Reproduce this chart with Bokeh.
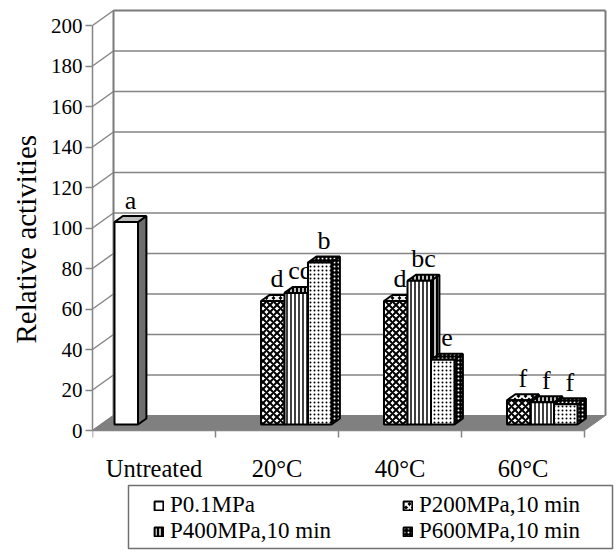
from bokeh.plotting import figure
from bokeh.models import FixedTicker, Legend, LegendItem, BoxAnnotation, Title
from bokeh.core.properties import value
from bokeh.embed import file_html
from bokeh.resources import INLINE

# ---------------- data ----------------
categories = ["Untreated", "20°C", "40°C", "60°C"]
series_names = ["P0.1MPa", "P200MPa,10 min", "P400MPa,10 min", "P600MPa,10 min"]
p01 = [100, None, None, None]
p200 = [None, 61, 61, 12]
p400 = [None, 65, 71, 11]
p600 = [None, 80, 32, 10]
sig_p01 = ["a", "", "", ""]
sig_p200 = ["", "d", "d", "f"]
sig_p400 = ["", "cd", "bc", "f"]
sig_p600 = ["", "b", "e", "f"]
y_ticks = [0, 20, 40, 60, 80, 100, 120, 140, 160, 180, 200]
y_title = "Relative activities"

series_values = [p01, p200, p400, p600]
series_sig = [sig_p01, sig_p200, sig_p400, sig_p600]

# ---------------- layout (pixels) ----------------
FIG_W, FIG_H = 614, 556
FRAME_LEFT = 92
ZERO_PX = 430          # canvas y of value 0
PX_X = 123.0           # pixels per category
PX_Y = 2.025           # pixels per value unit
N = len(categories)
X_END = (FIG_W - FRAME_LEFT) / PX_X
Y_END = ZERO_PX / PX_Y
Y_START = -(FIG_H - ZERO_PX) / PX_Y

WALL_DX, WALL_DY = 21 / PX_X, 15 / PX_Y        # depth of the box
BAR_OX, BAR_OY = 8.4 / PX_X, 6 / PX_Y          # front plane of bars
BAR_DX, BAR_DY = 8.4 / PX_X, 6 / PX_Y          # bar depth
GAP = 13.6 / PX_X
SLOT = 23.5 / PX_X
LETTER_OFF = 22 / PX_Y
TICK_LEN = 7 / PX_Y
CAT_LABEL_Y = -38 / PX_Y

FONT = "Liberation Serif"
QFONT = "'Liberation Serif'"
WALL = "#858585"

p = figure(width=FIG_W, height=FIG_H, output_backend="svg", toolbar_location=None,
           x_range=(0, X_END), y_range=(Y_START, Y_END), x_axis_location=None,
           min_border_left=FRAME_LEFT, min_border_right=0, min_border_top=0,
           min_border_bottom=0)
p.outline_line_color = None
p.xgrid.visible = False
p.ygrid.visible = False
p.background_fill_color = "white"
p.border_fill_color = "white"

# ---------------- walls ----------------
top_v = y_ticks[-1]
p.multi_line([[WALL_DX, N + WALL_DX] for v in y_ticks[1:-1]],
             [[v + WALL_DY, v + WALL_DY] for v in y_ticks[1:-1]],
             line_color=WALL, line_width=1.5)
p.multi_line([[0, WALL_DX] for v in y_ticks],
             [[v, v + WALL_DY] for v in y_ticks],
             line_color=WALL, line_width=1.5)
p.multi_line([[WALL_DX, WALL_DX], [N + WALL_DX, N + WALL_DX], [WALL_DX, N + WALL_DX]],
             [[WALL_DY, top_v + WALL_DY], [WALL_DY, top_v + WALL_DY], [top_v + WALL_DY, top_v + WALL_DY]],
             line_color="#7a7a7a", line_width=2)
p.patch([0, N, N + WALL_DX, WALL_DX], [0, 0, WALL_DY, WALL_DY],
        fill_color="#808080", line_color="#808080", line_width=1)

# front bottom edge (category axis) with tick marks at category boundaries
p.segment(x0=[0], y0=[0], x1=[N], y1=[0], line_color=WALL, line_width=1.5)
p.segment(x0=list(range(N + 1)), y0=[0] * (N + 1), x1=list(range(N + 1)),
          y1=[-TICK_LEN] * (N + 1), line_color=WALL, line_width=1.5)
p.text(x=[i + 0.5 for i in range(N)], y=[CAT_LABEL_Y] * N, text=categories,
       text_font=value(FONT), text_font_size="24.5px", text_color="black",
       text_align="center", text_baseline="alphabetic")

# ---------------- bars ----------------
hatch_pat = [None, "diagonal_cross", "vertical_line", "dot"]
hatch_scale = [4, 7, 4, 4]
hatch_weight = [1, 2, 1.5, 1.6]
side_fill = ["#6e6e6e", "black", "black", "black"]
top_fill = ["#bdbdbd", "black", "black", "black"]

legend_r = []
for j, vals in enumerate(series_values):
    idx = [i for i, v in enumerate(vals) if v is not None]
    x0 = [i + BAR_OX + GAP + j * SLOT for i in idx]
    x1 = [x + SLOT for x in x0]
    y0 = [BAR_OY for i in idx]
    y1 = [BAR_OY + vals[i] for i in idx]
    side_xs = [[b, b + BAR_DX, b + BAR_DX, b] for b in x1]
    side_ys = [[lo, lo + BAR_DY, hi + BAR_DY, hi] for lo, hi in zip(y0, y1)]
    top_xs = [[a, b, b + BAR_DX, a + BAR_DX] for a, b in zip(x0, x1)]
    top_ys = [[hi, hi, hi + BAR_DY, hi + BAR_DY] for hi in y1]
    hp = hatch_pat[j]
    rs = p.patches(side_xs, side_ys, fill_color=side_fill[j], line_color="black", line_width=2,
                   hatch_pattern=hp, hatch_color="white", hatch_scale=hatch_scale[j],
                   hatch_weight=hatch_weight[j])
    p.patches(top_xs, top_ys, fill_color=top_fill[j], line_color="black", line_width=2,
              hatch_pattern=hp, hatch_color="white", hatch_scale=hatch_scale[j],
              hatch_weight=hatch_weight[j])
    rf = p.quad(left=x0, right=x1, bottom=y0, top=y1, fill_color="white",
                line_color="black", line_width=2,
                hatch_pattern=hp, hatch_color="black", hatch_scale=hatch_scale[j],
                hatch_weight=hatch_weight[j])
    legend_r.append(rf if j == 0 else rs)
    p.text(x=[a + (SLOT + BAR_DX) / 2 for a in x0],
           y=[hi + LETTER_OFF for hi in y1],
           text=[series_sig[j][i] for i in idx],
           text_font=value(FONT), text_font_size="26px", text_color="black",
           text_align="center", text_baseline="alphabetic")

# ---------------- value axis ----------------
ya = p.left[0]
ya.bounds = (y_ticks[0], y_ticks[-1])
ya.ticker = FixedTicker(ticks=y_ticks, minor_ticks=[])
ya.axis_line_color = WALL
ya.axis_line_width = 1.5
ya.major_tick_line_color = WALL
ya.major_tick_line_width = 1.5
ya.major_tick_out = 7
ya.major_tick_in = 0
ya.minor_tick_out = 0
ya.minor_tick_in = 0
ya.major_label_standoff = 3
ya.major_label_text_font = QFONT
ya.major_label_text_font_size = "21px"
ya.major_label_text_color = "black"

# axis title placed along the 0-200 part of the axis (frame extends lower for the legend)
p.add_layout(Title(text=y_title, align="left", offset=213, standoff=11,
                   text_font=QFONT, text_font_size="29px", text_font_style="normal",
                   text_color="black"), "left")

# ---------------- legend (two columns) ----------------
items = [LegendItem(label=n, renderers=[r]) for n, r in zip(series_names, legend_r)]
common = dict(glyph_width=11, glyph_height=11, label_standoff=6, label_height=24,
              spacing=0, padding=0, margin=0,
              label_text_font=QFONT, label_text_font_size="23px", label_text_color="black",
              border_line_alpha=0, background_fill_alpha=0)
leg_a = Legend(items=[items[0], items[2]], location=(61, 12), **common)
leg_b = Legend(items=[items[1], items[3]], location=(310, 12), **common)
p.add_layout(leg_a, "center")
p.add_layout(leg_b, "center")
p.add_layout(BoxAnnotation(left=128, right=612, top=485, bottom=548,
                           left_units="canvas", right_units="canvas",
                           top_units="canvas", bottom_units="canvas",
                           fill_alpha=0, line_color="#707070", line_width=1.5, line_alpha=1))

open("out.html", "w").write(file_html(p, INLINE))
